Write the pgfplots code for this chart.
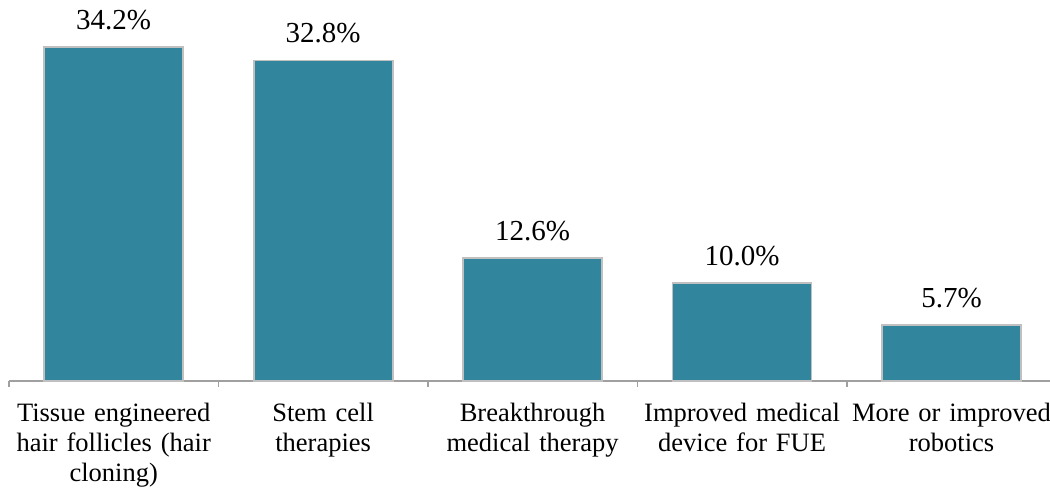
\documentclass[border=0pt]{standalone}
\usepackage{pgfplots}
\pgfplotsset{compat=1.18}
\usepackage{fontspec}
\setmainfont{Liberation Serif}
\definecolor{barTeal}{HTML}{31859C}
\definecolor{barEdge}{HTML}{C0C0C0}
\definecolor{axGray}{HTML}{A0A0A0}

\begin{document}
\begin{tikzpicture}[x=1pt,y=1pt]
\path[use as bounding box] (0,0) rectangle (1050,489);
\begin{axis}[
  at={(113.7pt,108pt)}, anchor=origin,
  scale only axis,
  width=1041pt, height=381pt,
  xmin=-0.5, xmax=4.47,
  ymin=0, ymax=39,
  axis y line=none,
  axis x line*=bottom,
  axis line style={axGray, line width=1.4pt},
  xtick={0,1,2,3,4},
  xticklabels={{Tissue engineered\\hair follicles (hair\\cloning)},
               {Stem cell\\therapies},
               {Breakthrough\\medical therapy},
               {Improved medical\\device for FUE},
               {More or improved\\robotics}},
  major tick length=0pt,
  minor xtick={-0.5,0.5,1.5,2.5,3.5},
  minor tick length=6pt,
  tick align=outside,
  minor tick style={axGray, line width=1.4pt},
  xticklabel style={align=center, text width=205pt,
    font=\fontsize{26.5}{30}\selectfont, yshift=-19pt},
  ybar, bar width=139pt,
  /pgf/number format/assume math mode=true,
  nodes near coords={\pgfmathprintnumber[fixed,fixed zerofill,precision=1]{\pgfplotspointmeta}\%},
  nodes near coords style={font=\fontsize{29}{32}\selectfont, text=black, yshift=13pt},
  clip=false,
]
\addplot[fill=barTeal, draw=barEdge, line width=1.8pt]
  coordinates {(0,34.2) (1,32.8) (2,12.6) (3,10.0) (4,5.7)};
\end{axis}
\end{tikzpicture}
\end{document}
